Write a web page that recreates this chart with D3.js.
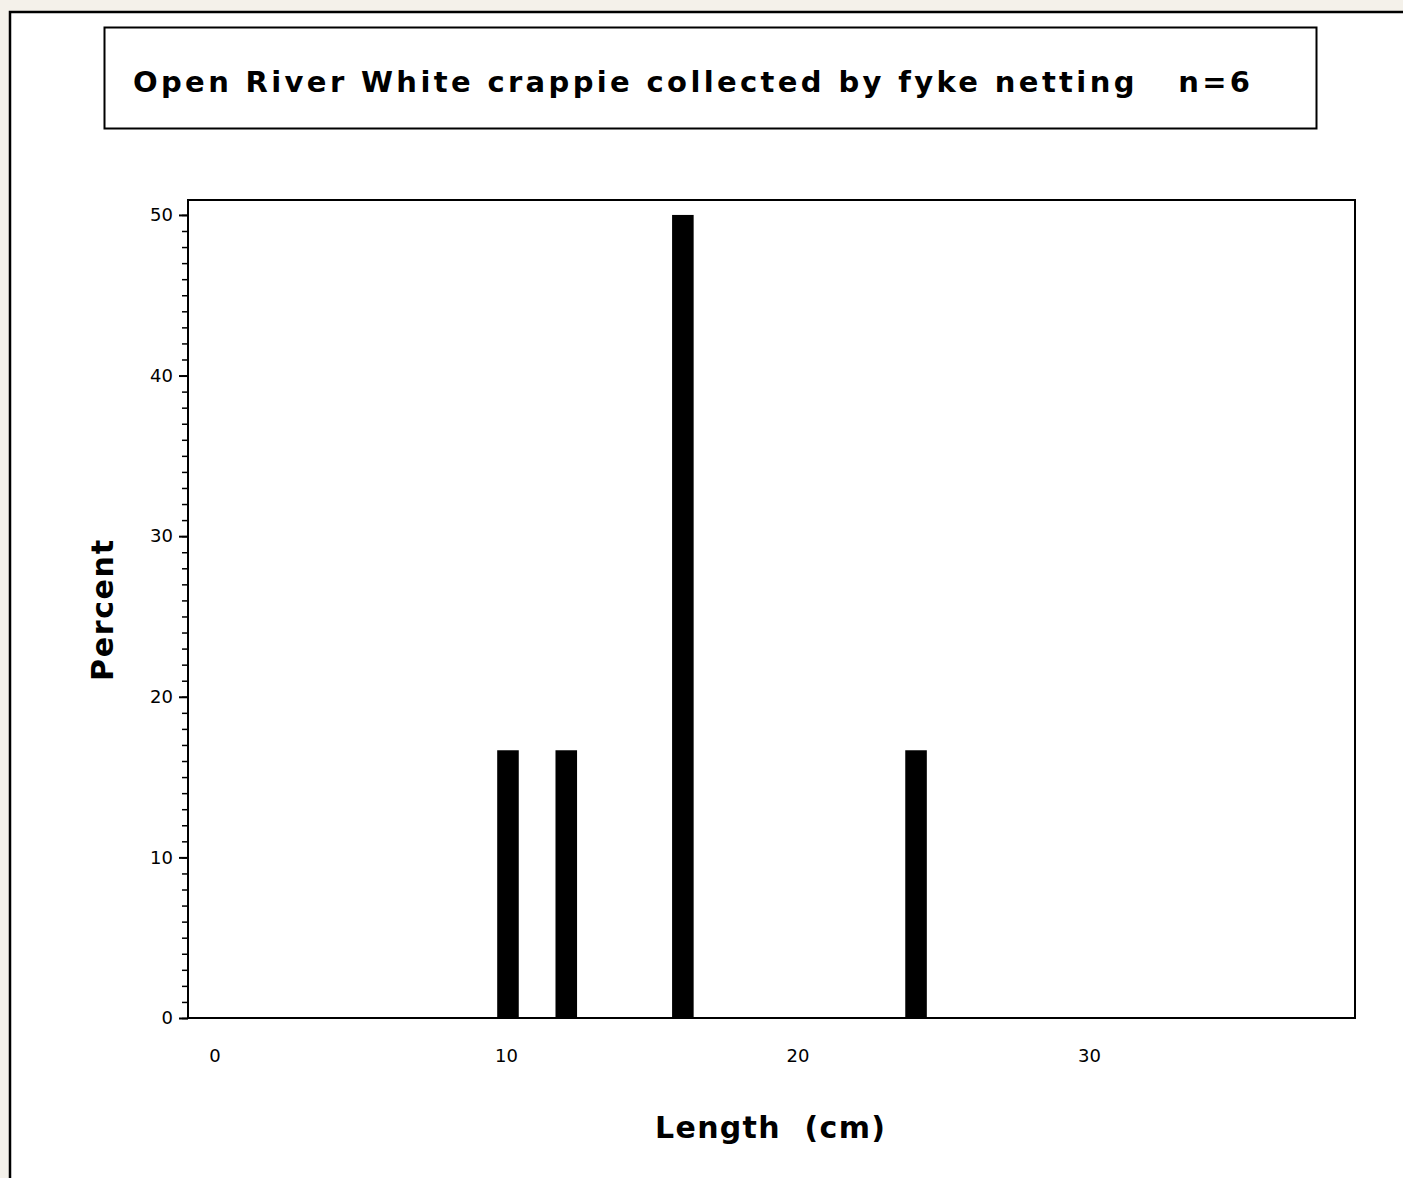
<!DOCTYPE html>
<meta charset="utf-8">
<style>
body { margin: 0; background: #f4f1ea; }
svg { display: block; }
.tick text { font-family: "DejaVu Sans", Arial, sans-serif; font-size: 18px; fill: #000; }
.lbl { font-family: "DejaVu Sans", Arial, sans-serif; font-weight: bold; fill: #000; }
</style>
<svg width="1403" height="1178"></svg>
<script src="https://d3js.org/d3.v7.min.js"></script>
<script>

var lengths = [10, 12, 16, 24];
var percents = [16.67, 16.67, 50, 16.67];
var xTicks = [0, 10, 20, 30];
var yTicks = [0, 10, 20, 30, 40, 50];
var titleText = "Open River White crappie collected by fyke netting   n=6";

var svg = d3.select("svg");

// page panel
svg.append("rect")
    .attr("x", 10).attr("y", 12)
    .attr("width", 1420).attr("height", 1200)
    .attr("fill", "#fff")
    .attr("stroke", "#000")
    .attr("stroke-width", 2.5);

// title box
svg.append("rect")
    .attr("x", 104.5).attr("y", 27.5)
    .attr("width", 1212).attr("height", 101)
    .attr("fill", "#fff")
    .attr("stroke", "#000")
    .attr("stroke-width", 2);

svg.append("text")
    .attr("class", "lbl")
    .attr("x", 133).attr("y", 92)
    .attr("font-size", 29)
    .attr("textLength", 1117)
    .attr("lengthAdjust", "spacing")
    .style("white-space", "pre")
    .text(titleText);

var pLeft = 188, pRight = 1355, pTop = 200, pBottom = 1018;

var x = d3.scaleLinear().domain([-0.978, 39.06]).range([pLeft, pRight]);
var y = d3.scaleLinear().domain([0, 50.93]).range([pBottom, pTop]);

// bars
var barHalf = 0.37;
svg.append("g").selectAll("rect")
  .data(lengths)
  .enter().append("rect")
    .attr("x", function(d) { return x(d - barHalf); })
    .attr("width", function(d) { return x(d + barHalf) - x(d - barHalf); })
    .attr("y", function(d, i) { return y(percents[i]); })
    .attr("height", function(d, i) { return y(0) - y(percents[i]); })
    .attr("fill", "#000");

// frame
svg.append("rect")
    .attr("x", pLeft).attr("y", pTop)
    .attr("width", pRight - pLeft).attr("height", pBottom - pTop)
    .attr("fill", "none")
    .attr("stroke", "#000")
    .attr("stroke-width", 2);

// y minor ticks
svg.append("g")
    .attr("transform", "translate(" + pLeft + ",0)")
    .call(d3.axisLeft(y).tickValues(d3.range(0, 51, 1)).tickSize(6).tickFormat(""))
    .call(function(g) { g.select(".domain").remove(); })
    .selectAll("line").attr("stroke-width", 1.5);

// y major ticks
svg.append("g")
    .attr("transform", "translate(" + pLeft + ",0)")
    .call(d3.axisLeft(y).tickValues(yTicks).tickSize(9).tickPadding(6))
    .call(function(g) { g.select(".domain").remove(); })
    .selectAll("line").attr("stroke-width", 2);

// x labels (no tick marks)
svg.append("g")
    .attr("transform", "translate(0,1049)")
    .call(d3.axisBottom(x).tickValues(xTicks).tickSize(0).tickPadding(0))
    .call(function(g) { g.select(".domain").remove(); })
    .selectAll("text").attr("dx", -2);

svg.append("text")
    .attr("class", "lbl")
    .attr("x", 655).attr("y", 1138)
    .attr("font-size", 30)
    .attr("textLength", 230)
    .attr("lengthAdjust", "spacing")
    .style("white-space", "pre")
    .text("Length  (cm)");

svg.append("text")
    .attr("class", "lbl")
    .attr("transform", "translate(113,681) rotate(-90)")
    .attr("font-size", 30)
    .attr("textLength", 141)
    .attr("lengthAdjust", "spacing")
    .text("Percent");

</script>
